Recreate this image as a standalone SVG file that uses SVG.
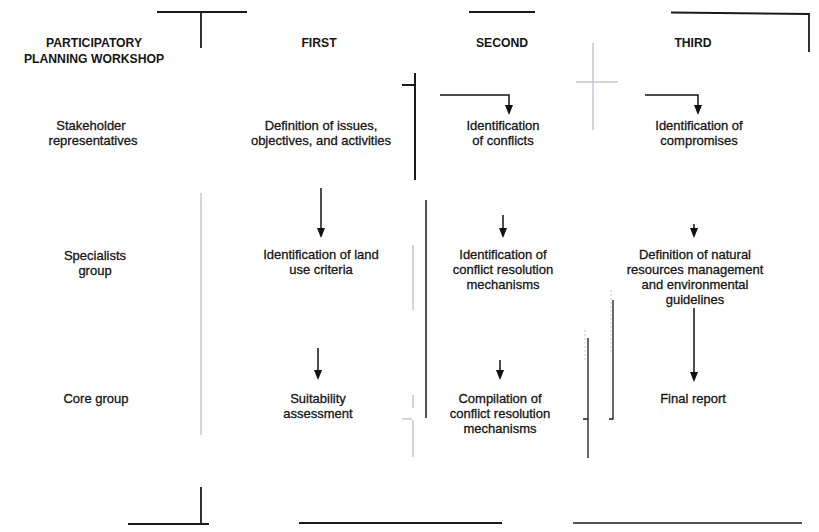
<svg xmlns="http://www.w3.org/2000/svg" width="819" height="532" viewBox="0 0 819 532">
<style>
text{font-family:"Liberation Sans",Arial,sans-serif;fill:#161616;text-anchor:middle}
.h{font-size:12.2px;font-weight:bold}
.t{font-size:13px;stroke:#161616;stroke-width:0.3}
.k{stroke:#1a1a1a;fill:none}
.g{stroke:#c3c6d8;fill:none;stroke-width:1.5}
.s{stroke:#d2d2d2;fill:none;stroke-width:1.2;stroke-dasharray:2 2}
.c{stroke:#111;fill:none;stroke-width:1.5}
</style>
<defs>
<marker id="ah" viewBox="0 0 10 8" refX="8" refY="4" markerWidth="10" markerHeight="8" markerUnits="userSpaceOnUse" orient="auto">
<path d="M0,0 L10,4 L0,8 z" fill="#111"/>
</marker>
</defs>
<rect width="819" height="532" fill="#fff"/>

<g id="frame">
<path class="k" stroke-width="1.8" d="M157,12 H247 M201,12 V48"/>
<path class="k" stroke-width="1.8" d="M469,12 H535"/>
<path class="k" stroke-width="1.8" d="M671,12.5 L809,14 V52"/>
<path class="k" stroke-width="2" d="M415,73 V180 M402,85 H415"/>
<path class="k" stroke-width="1.5" d="M426,200 V418"/>
<path class="k" stroke-width="1.3" d="M613,300 V419 H609"/>
<path class="k" stroke-width="1.3" d="M588,338 V458 M583,419 H588"/>
<path class="s" d="M611,290 V353 M585,330 V362"/>
<path class="g" d="M201,193 V435"/>
<path class="g" d="M593,43 V130 M576,82 H618"/>
<path class="g" d="M413,245 V310"/>
<path class="g" d="M413,395 V408 M413,420 V457"/>
<path class="g" stroke-width="1" d="M402,419 H412"/>
<path class="k" stroke-width="1.8" d="M201,487 V524 M128,524 H209"/>
<path class="k" stroke-width="1.8" d="M299,523 H502"/>
<path class="k" stroke-width="1.5" d="M573,523 H802"/>
</g>

<g id="headers">
<text class="h" x="94" y="47">PARTICIPATORY</text>
<text class="h" x="94" y="63">PLANNING WORKSHOP</text>
<text class="h" x="319" y="47">FIRST</text>
<text class="h" x="502" y="47">SECOND</text>
<text class="h" x="693" y="47">THIRD</text>
</g>

<g id="row-stakeholder">
<text class="t" x="91" y="130">Stakeholder</text>
<text class="t" x="93" y="145">representatives</text>
</g>
<g id="row-specialists">
<text class="t" x="95" y="260">Specialists</text>
<text class="t" x="95" y="275">group</text>
</g>
<g id="row-core">
<text class="t" x="96" y="403">Core group</text>
</g>

<g id="n-definition-issues">
<text class="t" x="321" y="130">Definition of issues,</text>
<text class="t" x="321" y="145">objectives, and activities</text>
</g>
<g id="n-land-use-criteria">
<text class="t" x="321" y="259">Identification of land</text>
<text class="t" x="321" y="274">use criteria</text>
</g>
<g id="n-suitability">
<text class="t" x="318" y="403">Suitability</text>
<text class="t" x="318" y="418">assessment</text>
</g>

<g id="n-conflicts">
<text class="t" x="503" y="130">Identification</text>
<text class="t" x="503" y="145">of conflicts</text>
</g>
<g id="n-resolution-mechanisms">
<text class="t" x="503" y="259">Identification of</text>
<text class="t" x="503" y="274">conflict resolution</text>
<text class="t" x="503" y="289">mechanisms</text>
</g>
<g id="n-compilation">
<text class="t" x="500" y="403">Compilation of</text>
<text class="t" x="500" y="418">conflict resolution</text>
<text class="t" x="500" y="433">mechanisms</text>
</g>

<g id="n-compromises">
<text class="t" x="699" y="130">Identification of</text>
<text class="t" x="699" y="145">compromises</text>
</g>
<g id="n-guidelines">
<text class="t" x="695" y="259">Definition of natural</text>
<text class="t" x="695" y="274">resources management</text>
<text class="t" x="695" y="289">and environmental</text>
<text class="t" x="695" y="304">guidelines</text>
</g>
<g id="n-final-report">
<text class="t" x="693" y="403">Final report</text>
</g>

<g id="connectors">
<path class="c" marker-end="url(#ah)" d="M321,188 V236"/>
<path class="c" marker-end="url(#ah)" d="M318,348 V378"/>
<path class="c" marker-end="url(#ah)" d="M440,95 H509 V113"/>
<path class="c" marker-end="url(#ah)" d="M503,215 V236"/>
<path class="c" marker-end="url(#ah)" d="M500,360 V378"/>
<path class="c" marker-end="url(#ah)" d="M645,95 H698 V113"/>
<path class="c" marker-end="url(#ah)" d="M694,224 V236"/>
<path class="c" marker-end="url(#ah)" d="M694,308 V380"/>
</g>
</svg>
